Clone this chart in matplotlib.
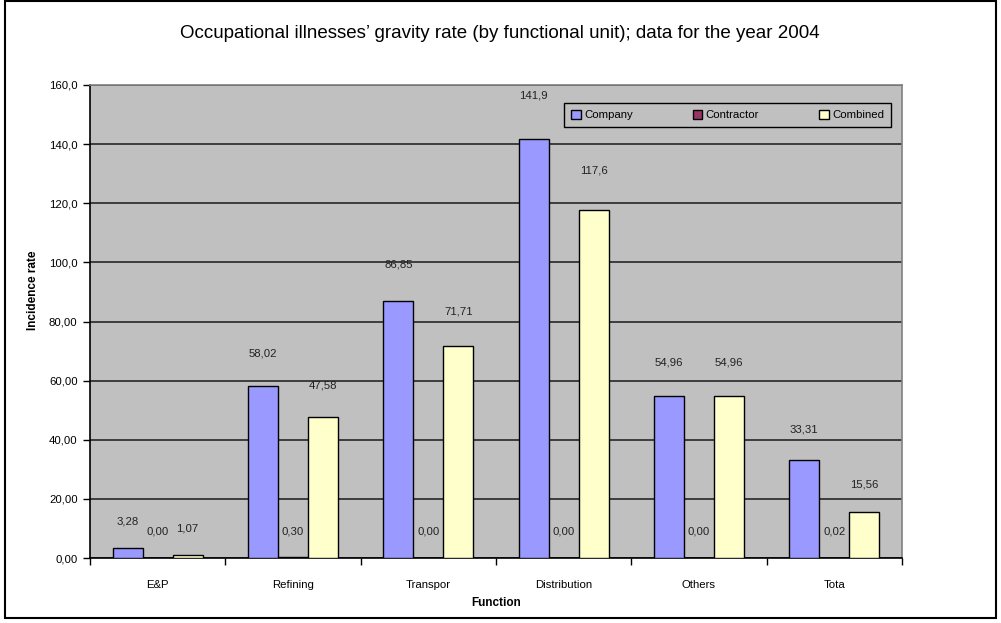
import matplotlib
matplotlib.use("Agg")
import matplotlib.pyplot as plt
import numpy as np
from matplotlib.patches import Rectangle

plt.rcParams['font.family'] = ['Liberation Sans', 'DejaVu Sans']

categories = ["E&P", "Refining", "Transpor", "Distribution", "Others", "Tota"]
company = [3.28, 58.02, 86.85, 141.9, 54.96, 33.31]
contractor = [0.00, 0.30, 0.00, 0.00, 0.00, 0.02]
combined = [1.07, 47.58, 71.71, 117.6, 54.96, 15.56]
company_labels = ["3,28", "58,02", "86,85", "141,9", "54,96", "33,31"]
contractor_labels = ["0,00", "0,30", "0,00", "0,00", "0,00", "0,02"]
combined_labels = ["1,07", "47,58", "71,71", "117,6", "54,96", "15,56"]
series_names = ["Company", "Contractor", "Combined"]
yticks = [0, 20, 40, 60, 80, 100, 120, 140, 160]
ytick_labels = ["0,00", "20,00", "40,00", "60,00", "80,00", "100,0", "120,0", "140,0", "160,0"]

colors = ["#9999FF", "#993366", "#FFFFCC"]

W, H = 1001, 623
fig = plt.figure(figsize=(W / 100, H / 100), dpi=100)
fig.patch.set_facecolor("white")

L, R, T, B = 90, 902, 85, 558
ax = fig.add_axes([L / W, 1 - B / H, (R - L) / W, (B - T) / H])
ax.set_facecolor("#C0C0C0")

x = np.arange(len(categories))
bw = 0.222
all_vals = [company, contractor, combined]
all_labels = [company_labels, contractor_labels, combined_labels]
for i, (vals, labs) in enumerate(zip(all_vals, all_labels)):
    pos = x + (i - 1) * bw
    ax.bar(pos, vals, width=bw, color=colors[i], edgecolor="black",
           linewidth=1.0, label=series_names[i], zorder=3)
    for p, v, lab in zip(pos, vals, labs):
        off = 26 + 0.12 * v  # pixels above the bar top
        ax.annotate(lab, (p, v), xytext=(0, off * 0.72), textcoords="offset points",
                    ha="center", va="center", fontsize=8.2, color="#222222", zorder=4)

ax.set_xlim(-0.5, len(categories) - 0.5)
ax.set_ylim(0, 160)
ax.set_yticks(yticks)
ax.set_yticklabels(ytick_labels, fontsize=8.2)
ax.yaxis.grid(True, color="#1a1a1a", linewidth=1.1, zorder=1)
ax.set_axisbelow(True)

ax.set_xticks(x)
ax.set_xticklabels(categories, fontsize=8.2)
ax.set_xticks(np.arange(len(categories) + 1) - 0.5, minor=True)
ax.tick_params(axis="x", which="major", length=0, pad=16)
ax.tick_params(axis="x", which="minor", length=5, direction="out", width=1)
ax.tick_params(axis="y", length=5, direction="out", width=1, pad=4)

for s in ["left", "bottom"]:
    ax.spines[s].set_color("black")
    ax.spines[s].set_linewidth(1.2)
for s in ["top", "right"]:
    ax.spines[s].set_color("#808080")
    ax.spines[s].set_linewidth(1.2)

# Legend
lx0, lx1, ly0, ly1 = 564, 891, 100, 130
leg = ax.legend(loc="center", bbox_to_anchor=(lx0 / W, 1 - ly1 / H, (lx1 - lx0) / W, (ly1 - ly0) / H),
                bbox_transform=fig.transFigure, ncol=3, mode="expand", fontsize=8.2,
                frameon=True, fancybox=False, edgecolor="black", facecolor="#C0C0C0",
                framealpha=1, handlelength=0.85, handleheight=0.85, handletextpad=0.3,
                borderaxespad=0, borderpad=0.6)
leg.get_frame().set_linewidth(1.0)

fig.text(500 / W, 1 - 34 / H, "Occupational illnesses\u2019 gravity rate (by functional unit); data for the year 2004",
         ha="center", va="center", fontsize=13.5)
fig.text(33 / W, 1 - 290 / H, "Incidence rate", rotation=90, ha="center", va="center",
         fontsize=8.5, fontweight="bold")
fig.text(496 / W, 1 - 603 / H, "Function", ha="center", va="center", fontsize=8.5, fontweight="bold")

fig.patches.append(Rectangle((5 / W, 1 - 618 / H), 991 / W, 617 / H, transform=fig.transFigure,
                             fill=False, edgecolor="black", linewidth=1.5, zorder=10))

fig.savefig("out.png", dpi=100)
